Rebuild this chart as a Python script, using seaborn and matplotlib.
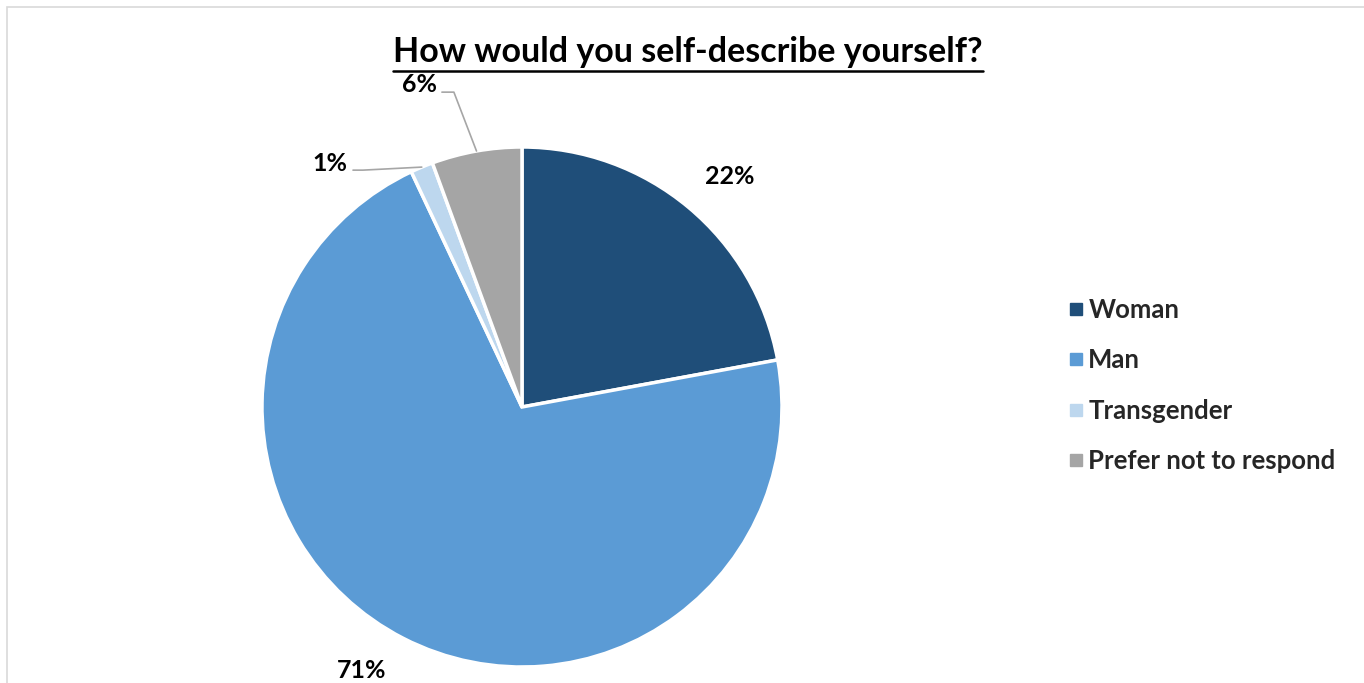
import numpy as np
import matplotlib
matplotlib.use("Agg")
import matplotlib.pyplot as plt
from matplotlib.patches import Rectangle
from matplotlib.lines import Line2D
import seaborn as sns

# ---- data ----
categories = ["Woman", "Man", "Transgender", "Prefer not to respond"]
values = [22.1, 70.9, 1.4, 5.6]
labels = [f"{v:.0f}%" for v in values]
colors = ["#1F4E79", "#5B9BD5", "#BDD7EE", "#A5A5A5"]
title = "How would you self-describe yourself?"

sns.set_theme(style="white")
plt.rcParams["font.family"] = ["Lato", "DejaVu Sans"]

W, H = 1364, 683
fig = plt.figure(figsize=(W / 100, H / 100), dpi=100)
fig.patch.set_facecolor("white")

# outer chart frame
fig.add_artist(Rectangle((7 / W, -0.05), 1.2, (H - 7) / H + 0.05, transform=fig.transFigure,
                         fill=False, edgecolor="#D9D9D9", linewidth=1.2))

# pie axes: center (522, 407) px, radius 260 px
cx, cy, R = 522, 407, 260
half = 275
ax = fig.add_axes([(cx - half) / W, (H - cy - half) / H, 2 * half / W, 2 * half / H])

wedges, _ = ax.pie(values, colors=colors, startangle=90, counterclock=False, radius=1.0,
                   wedgeprops=dict(edgecolor="white", linewidth=2.5))
lim = half / R
ax.set_xlim(-lim, lim)
ax.set_ylim(-lim, lim)
ax.set_aspect("equal")
ax.axis("off")

# mid angles (degrees, standard orientation)
mids = [(w.theta1 + w.theta2) / 2 for w in wedges]
lab_kw = dict(fontsize=18, fontweight="bold", color="black", ha="center", va="center",
              clip_on=False)

# label positions (in pie-radius units)
label_pos = [(0.80, 0.885), (-0.615, -1.015), (-0.738, 0.935), (-0.396, 1.24)]
# leader-line elbows for the small slices: (x start, x elbow, y)
elbows = {2: (-0.650, -0.612, 0.911), 3: (-0.308, -0.262, 1.211)}

for i, (lx, ly) in enumerate(label_pos):
    if i in elbows:
        a = np.deg2rad(mids[i])
        ex, ey = np.cos(a), np.sin(a)
        x0, x1, yl = elbows[i]
        ax.add_line(Line2D([x0, x1, ex], [yl, yl, ey], color="#A6A6A6", linewidth=1.2,
                           clip_on=False))
    ax.text(lx, ly, labels[i], **lab_kw)

# title with underline
t = fig.text(688 / W, 1 - 52 / H, title, ha="center", va="center", fontsize=24.5,
             fontweight="bold", color="black")
fig.canvas.draw()
bb = t.get_window_extent(renderer=fig.canvas.get_renderer())
uy = (H - 71) / H
fig.add_artist(Line2D([bb.x0 / W, bb.x1 / W], [uy, uy], transform=fig.transFigure,
                      color="black", linewidth=1.8))

# legend
handles = [Line2D([0], [0], marker="s", linestyle="none", markersize=8.5,
                  markerfacecolor=c, markeredgecolor=c) for c in colors]
fig.legend(handles, categories, loc="upper left", bbox_to_anchor=(1058 / W, 1 - 288 / H),
           frameon=False, prop=dict(family=["Lato", "DejaVu Sans"], weight="bold", size=18.5),
           handlelength=0.6, handletextpad=0.18, labelspacing=1.02, borderaxespad=0)

fig.savefig("out.png", dpi=100, facecolor="white")
